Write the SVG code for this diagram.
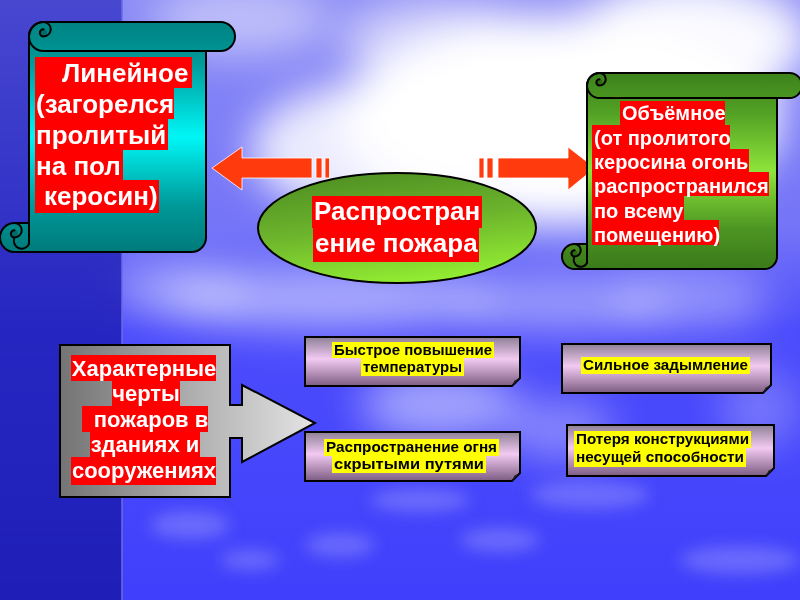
<svg xmlns="http://www.w3.org/2000/svg" width="800" height="600" viewBox="0 0 800 600">
<defs>
<style>
.ot{stroke:#000;stroke-width:2;stroke-linejoin:round}
.ln{fill:none;stroke:#000;stroke-width:2;stroke-linecap:round}
.red{fill:#ff0000}
.yel{fill:#ffff00}
.wt{font-family:"Liberation Sans",Arial,sans-serif;font-weight:bold;fill:#fff}
.bt{font-family:"Liberation Sans",Arial,sans-serif;font-weight:bold;fill:#000;font-size:14.5px}
.arr{fill:#ff3a0c;stroke:#fff;stroke-width:0.8}
.box{stroke:#000;stroke-width:2;fill:url(#gPink)}
.fold{fill:#222}
</style>
<filter id="blur" x="-50%" y="-50%" width="200%" height="200%"><feGaussianBlur stdDeviation="20"/></filter>
<filter id="blur2" x="-50%" y="-50%" width="200%" height="200%"><feGaussianBlur stdDeviation="8"/></filter>
<linearGradient id="gBg" x1="0" y1="0" x2="0" y2="1">
<stop offset="0" stop-color="#8c8cf6"/><stop offset="0.38" stop-color="#7474f8"/><stop offset="0.55" stop-color="#4c4cfc"/><stop offset="1" stop-color="#4040fc"/>
</linearGradient>
<linearGradient id="gStrip" x1="0" y1="0" x2="0" y2="1">
<stop offset="0" stop-color="#2a2ac0" stop-opacity="0.7"/><stop offset="0.5" stop-color="#2020b8" stop-opacity="0.85"/><stop offset="1" stop-color="#1e1eb4" stop-opacity="0.95"/>
</linearGradient>
<linearGradient id="gTeal" x1="0" y1="0" x2="0" y2="1">
<stop offset="0" stop-color="#008282"/><stop offset="0.18" stop-color="#009a9a"/><stop offset="0.5" stop-color="#00f6f6"/><stop offset="0.8" stop-color="#009898"/><stop offset="1" stop-color="#007a7a"/>
</linearGradient>
<linearGradient id="gGreen" x1="0" y1="0" x2="0" y2="1">
<stop offset="0" stop-color="#3c821c"/><stop offset="0.2" stop-color="#52a024"/><stop offset="0.5" stop-color="#8ee43a"/><stop offset="0.8" stop-color="#4c9422"/><stop offset="1" stop-color="#3a7a1a"/>
</linearGradient>
<linearGradient id="gEll" x1="0.2" y1="0" x2="0.5" y2="1">
<stop offset="0" stop-color="#4e8e22"/><stop offset="0.5" stop-color="#6cb42c"/><stop offset="1" stop-color="#92ec32"/>
</linearGradient>
<linearGradient id="gGray" x1="0" y1="0" x2="1" y2="0">
<stop offset="0" stop-color="#747474"/><stop offset="1" stop-color="#e4e4e4"/>
</linearGradient>
<linearGradient id="gPink" x1="0" y1="0" x2="0" y2="1">
<stop offset="0" stop-color="#8e8096"/><stop offset="0.45" stop-color="#f2caf2"/><stop offset="1" stop-color="#7c5c82"/>
</linearGradient>
</defs>

<g id="background">
<rect x="0" y="0" width="800" height="600" fill="url(#gBg)"/>
<g filter="url(#blur)" fill="#ffffff">
<ellipse cx="560" cy="120" rx="220" ry="105" opacity="1"/>
<ellipse cx="390" cy="150" rx="140" ry="70" opacity="0.85"/>
<ellipse cx="690" cy="40" rx="120" ry="60" opacity="0.95"/>
<ellipse cx="440" cy="40" rx="100" ry="40" opacity="0.6"/>
<ellipse cx="240" cy="20" rx="90" ry="35" opacity="0.45"/>
<ellipse cx="330" cy="300" rx="170" ry="30" opacity="0.5"/>
<ellipse cx="180" cy="290" rx="70" ry="25" opacity="0.4"/>
<ellipse cx="560" cy="305" rx="110" ry="28" opacity="0.4"/>
<ellipse cx="440" cy="405" rx="80" ry="35" opacity="0.5"/>
<ellipse cx="560" cy="430" rx="55" ry="30" opacity="0.35"/>
<ellipse cx="690" cy="300" rx="80" ry="30" opacity="0.35"/>
<ellipse cx="760" cy="410" rx="40" ry="40" opacity="0.25"/>
</g>
<g filter="url(#blur2)" fill="#a8a8ff" opacity="0.4">
<ellipse cx="190" cy="525" rx="40" ry="14"/>
<ellipse cx="340" cy="545" rx="35" ry="12"/>
<ellipse cx="500" cy="540" rx="40" ry="12"/>
<ellipse cx="590" cy="495" rx="60" ry="14"/>
<ellipse cx="250" cy="560" rx="30" ry="10"/>
<ellipse cx="740" cy="560" rx="60" ry="14"/>
<ellipse cx="420" cy="500" rx="50" ry="12"/>
</g>
<rect x="0" y="0" width="122" height="600" fill="url(#gStrip)"/>
<line x1="122" y1="0" x2="122" y2="600" stroke="#6a6ae6" stroke-width="1.5"/>
</g>

<g id="connectors">
<g id="arrow-left">
<path class="arr" d="M212,168 L242,147 V158 H312 V178 H242 V190 Z"/>
<rect class="arr" x="316" y="158" width="6" height="20"/>
<rect class="arr" x="325" y="158" width="4.5" height="20"/>
</g>
<g id="arrow-right">
<rect class="arr" x="479" y="158" width="5" height="20"/>
<rect class="arr" x="487" y="158" width="6" height="20"/>
<path class="arr" d="M498,158 H568 V147 L595,168 L568,190 V178 H498 Z"/>
</g>
</g>

<g id="node-linear">
<path class="ot" fill="url(#gTeal)" d="M29,36.5 A14.5,14.5 0 0 1 43.5,22 H220.5 A14.5,14.5 0 0 1 220.5,51 H206 V237.5 A14.5,14.5 0 0 1 191.5,252 H14.5 A14.5,14.5 0 0 1 14.5,223 H29 Z"/>
<path fill="#006a6a" d="M43.5,36.5 A3.6,3.6 0 0 1 43.5,29.25 A3.6,3.6 0 0 1 43.5,36.5 Z"/>
<path fill="#006a6a" d="M14.5,237.5 A3.6,3.6 0 0 1 14.5,230.25 A3.6,3.6 0 0 1 14.5,237.5 Z"/>
<path class="ln" d="M43.5,22 A7.25,7.25 0 0 1 43.5,36.5 A3.6,3.6 0 0 1 43.5,29.25 M43.5,51 A14.5,14.5 0 0 1 43.5,22 M43.5,51 H206"/>
<path class="ln" d="M29,223 V244 A7.25,7.25 0 0 1 14.5,237.5 A3.6,3.6 0 0 1 14.5,230.25 M14.5,223 A7.25,7.25 0 0 1 14.5,237.5"/>
<rect class="red" x="35" y="57" width="157" height="31"/>
<rect class="red" x="35" y="88" width="139" height="31"/>
<rect class="red" x="35" y="119" width="133" height="31"/>
<rect class="red" x="35" y="150" width="88" height="30"/>
<rect class="red" x="35" y="180" width="124" height="33"/>
<g class="wt" font-size="26">
<text x="62" y="82">Линейное</text>
<text x="36" y="113">(загорелся</text>
<text x="36" y="144">пролитый</text>
<text x="36" y="175">на пол</text>
<text x="44" y="205">керосин)</text>
</g>
</g>

<g id="node-volume">
<path class="ot" fill="url(#gGreen)" d="M587,85.5 A12.5,12.5 0 0 1 599.5,73 H789.5 A12.5,12.5 0 0 1 789.5,98 H777 V256.5 A12.5,12.5 0 0 1 764.5,269 H574.5 A12.5,12.5 0 0 1 574.5,244 H587 Z"/>
<path fill="#2e6a14" d="M599.5,85.5 A3.1,3.1 0 0 1 599.5,79.25 A3.1,3.1 0 0 1 599.5,85.5 Z"/>
<path fill="#2e6a14" d="M574.5,256.5 A3.1,3.1 0 0 1 574.5,250.25 A3.1,3.1 0 0 1 574.5,256.5 Z"/>
<path class="ln" d="M599.5,73 A6.25,6.25 0 0 1 599.5,85.5 A3.1,3.1 0 0 1 599.5,79.25 M599.5,98 A12.5,12.5 0 0 1 599.5,73 M599.5,98 H777"/>
<path class="ln" d="M587,244 V263 A6.25,6.25 0 0 1 574.5,256.5 A3.1,3.1 0 0 1 574.5,250.25 M574.5,244 A6.25,6.25 0 0 1 574.5,256.5"/>
<rect class="red" x="620" y="101" width="105" height="24"/>
<rect class="red" x="592" y="125" width="138" height="24"/>
<rect class="red" x="592" y="149" width="157" height="23"/>
<rect class="red" x="592" y="172" width="177" height="24"/>
<rect class="red" x="592" y="196" width="92" height="24"/>
<rect class="red" x="592" y="220" width="127" height="25"/>
<g class="wt" font-size="20">
<text x="622" y="120">Объёмное</text>
<text x="594" y="145">(от пролитого</text>
<text x="594" y="169">керосина огонь</text>
<text x="594" y="193">распространился</text>
<text x="594" y="218">по всему</text>
<text x="594" y="242">помещению)</text>
</g>
</g>

<g id="node-center">
<ellipse cx="397" cy="228" rx="139" ry="55" fill="url(#gEll)" stroke="#000" stroke-width="2"/>
<rect class="red" x="312" y="196" width="170" height="32"/>
<rect class="red" x="313" y="228" width="166" height="34"/>
<g class="wt" font-size="26">
<text x="314" y="220">Распростран</text>
<text x="315" y="252">ение пожара</text>
</g>
</g>

<g id="node-features">
<path fill="url(#gGray)" stroke="#000" stroke-width="2" stroke-linejoin="miter" d="M60,345 H230 V405 H242 V385 L315,423 L242,462 V438 H230 V497 H60 Z"/>
<rect class="red" x="71" y="355" width="145" height="26"/>
<rect class="red" x="112" y="381" width="68" height="25"/>
<rect class="red" x="82" y="406" width="126" height="26"/>
<rect class="red" x="90" y="432" width="110" height="25"/>
<rect class="red" x="71" y="457" width="145" height="28"/>
<g class="wt" font-size="22" text-anchor="middle">
<text x="144" y="376">Характерные</text>
<text x="146" y="401">черты</text>
<text x="151" y="427">пожаров в</text>
<text x="145" y="452">зданиях и</text>
<text x="144" y="478">сооружениях</text>
</g>
</g>

<g id="node-temp">
<path class="box" d="M305,337 H520 V378 L512,386 H305 Z"/>
<path class="fold" d="M520,378 L512,386 L514.5,380.5 Z"/>
<rect class="yel" x="332" y="342" width="162" height="16"/>
<rect class="yel" x="361" y="358" width="103" height="18"/>
<text class="bt" x="334" y="355" textLength="158" lengthAdjust="spacingAndGlyphs">Быстрое повышение</text>
<text class="bt" x="363" y="372" textLength="99" lengthAdjust="spacingAndGlyphs">температуры</text>
</g>

<g id="node-smoke">
<path class="box" d="M562,344 H771 V385 L763,393 H562 Z"/>
<path class="fold" d="M771,385 L763,393 L765.5,387.5 Z"/>
<rect class="yel" x="581" y="357" width="169" height="17"/>
<text class="bt" x="583" y="370" textLength="165" lengthAdjust="spacingAndGlyphs">Сильное задымление</text>
</g>

<g id="node-hidden">
<path class="box" d="M305,432 H520 V473 L512,481 H305 Z"/>
<path class="fold" d="M520,473 L512,481 L514.5,475.5 Z"/>
<rect class="yel" x="324" y="439" width="175" height="17"/>
<rect class="yel" x="332" y="456" width="154" height="17"/>
<text class="bt" x="326" y="452" textLength="171" lengthAdjust="spacingAndGlyphs">Распространение огня</text>
<text class="bt" x="334" y="469" textLength="150" lengthAdjust="spacingAndGlyphs">скрытыми  путями</text>
</g>

<g id="node-collapse">
<path class="box" d="M567,425 H774 V468 L766,476 H567 Z"/>
<path class="fold" d="M774,468 L766,476 L768.5,470.5 Z"/>
<rect class="yel" x="574" y="431" width="177" height="17"/>
<rect class="yel" x="574" y="448" width="172" height="19"/>
<text class="bt" x="576" y="444" textLength="173" lengthAdjust="spacingAndGlyphs">Потеря конструкциями</text>
<text class="bt" x="576" y="462" textLength="168" lengthAdjust="spacingAndGlyphs">несущей способности</text>
</g>
</svg>
